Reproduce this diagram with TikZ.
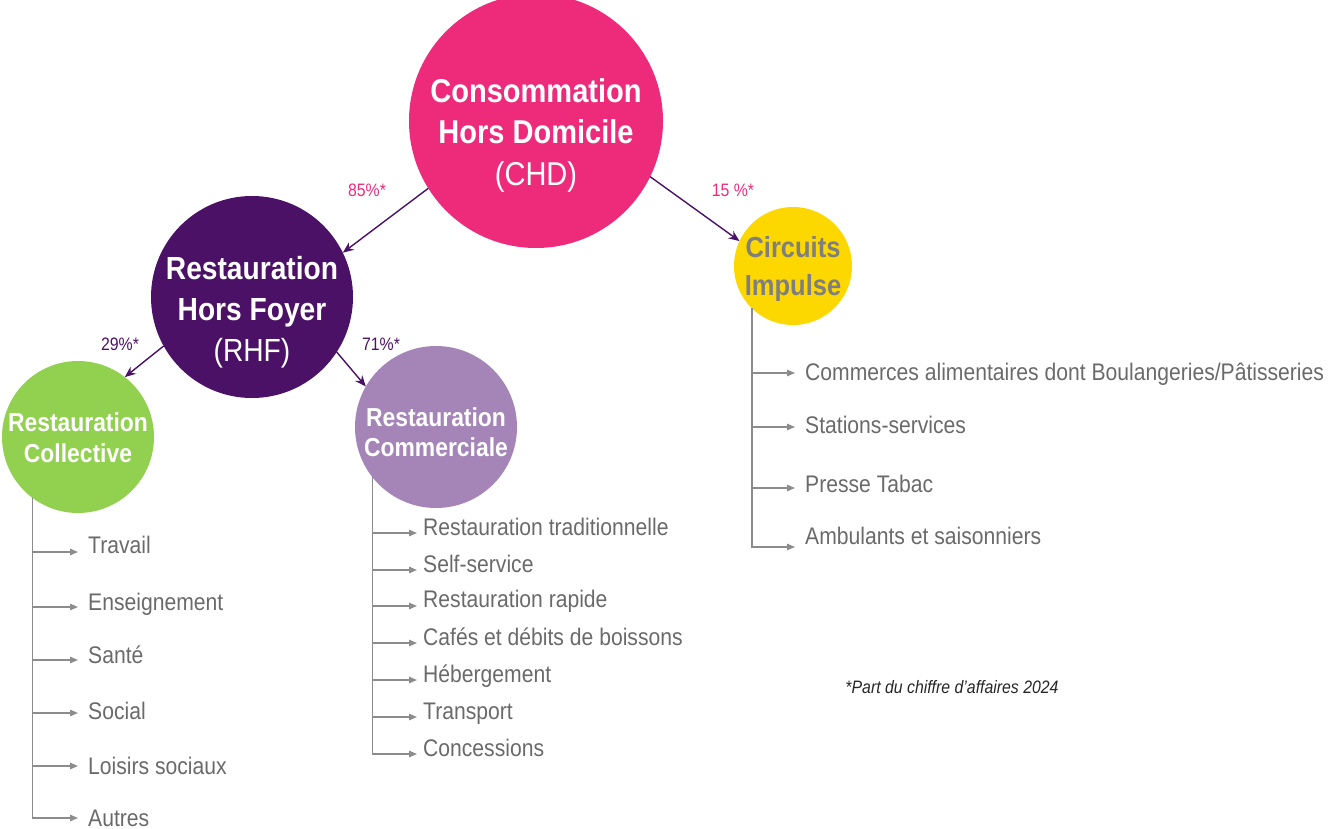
\documentclass[tikz,border=0pt]{standalone}
\usepackage{fontspec}
\setmainfont{Liberation Sans}[FakeStretch=0.88]
\usetikzlibrary{arrows.meta}

\definecolor{chdpink}{HTML}{EE2A7B}
\definecolor{rhfpurple}{HTML}{4B1166}
\definecolor{collgreen}{HTML}{92D050}
\definecolor{commlilac}{HTML}{A585B8}
\definecolor{impyellow}{HTML}{FDD800}
\definecolor{impgray}{HTML}{7F7F7F}
\definecolor{itemgray}{HTML}{6A6A6A}
\definecolor{linegray}{HTML}{8C8C8C}
\definecolor{notegray}{HTML}{262626}

\begin{document}
\begin{tikzpicture}[x=1pt,y=-1pt,
  disc/.style={circle,inner sep=0pt,outer sep=0pt},
  title/.style={text=white,font=\bfseries,align=center,inner sep=0pt},
  link/.style={draw=rhfpurple,line width=1.4pt,-{Stealth[length=11pt,width=9pt]}},
  share/.style={font=\fontsize{18}{20}\selectfont,inner sep=0pt},
  item/.style={text=itemgray,font=\fontsize{24}{28}\selectfont,inner sep=0pt,anchor=base west},
  branch/.style={draw=linegray,line width=1.3pt,-{Triangle[length=8pt,width=6.5pt]}}]

\useasboundingbox (0,0) rectangle (1335,829);

% category discs
\node[disc,fill=chdpink,minimum size=254pt] (chd) at (536,121) {};
\node[disc,fill=rhfpurple,minimum size=202pt] (rhf) at (252,297) {};
\node[disc,fill=collgreen,minimum size=152pt] (coll) at (78,437) {};
\node[disc,fill=commlilac,minimum size=162pt] (comm) at (436,427) {};
\node[disc,fill=impyellow,minimum size=118pt] (imp) at (793,266) {};

% disc titles
\node[title,font=\bfseries\fontsize{33}{41.5}\selectfont] (chdtext) at (536,135)
  {Consommation\\Hors Domicile\\\mdseries(CHD)};
\node[title,font=\bfseries\fontsize{32}{41}\selectfont] (rhftext) at (252,312.5)
  {Restauration\\Hors Foyer\\\mdseries(RHF)};
\node[title,font=\bfseries\fontsize{26}{31}\selectfont] (colltext) at (78,437.5)
  {Restauration\\Collective};
\node[title,font=\bfseries\fontsize{26}{30}\selectfont] (commtext) at (436,432)
  {Restauration\\Commerciale};
\node[title,text=impgray,font=\bfseries\fontsize{29}{38}\selectfont] (imptext) at (793,269)
  {Circuits\\Impulse};

% shares
\draw[link] (chd.212) -- (rhf.26);
\draw[link] (chd.-26) -- (imp.155);
\draw[link] (rhf.209) -- (coll.52);
\draw[link] (rhf.-33) -- (comm.150);

\node[share,text=chdpink] (p85) at (367,190) {85\%*};
\node[share,text=chdpink] (p15) at (733,190) {15 \%*};
\node[share,text=rhfpurple] (p29) at (120,344) {29\%*};
\node[share,text=rhfpurple] (p71) at (381,344) {71\%*};

% Restauration Collective segments
\foreach \n/\t/\yb/\yt in {trav/Travail/553/552, ens/Enseignement/610/607,
    san/Santé/663/660, soc/Social/719/713, lois/Loisirs sociaux/774/766,
    aut/Autres/826/818} {
  \node[item] (\n) at (88,\yb) {\t};
  \coordinate (\n-tip) at (78,\yt);
  \draw[branch] (coll.233) |- (\n-tip);
}

% Restauration Commerciale segments
\foreach \n/\t/\yb/\yt in {trad/Restauration traditionnelle/535/533,
    self/Self-service/572/570, rap/Restauration rapide/607/606,
    caf/Cafés et débits de boissons/645/643, heb/Hébergement/682/680,
    tra/Transport/719/717, con/Concessions/756/754} {
  \node[item] (\n) at (423,\yb) {\t};
  \coordinate (\n-tip) at (417,\yt);
  \draw[branch] (comm.218) |- (\n-tip);
}

% Circuits Impulse segments
\node[item] (com) at (805,380) {Commerces alimentaires dont Boulangeries/Pâtisseries};
\coordinate (com-tip) at (795,373);
\draw[branch] (imp.226) |- (com-tip);
\foreach \n/\t/\yb/\yt in {sta/Stations-services/433/427,
    pre/Presse Tabac/492/488, amb/Ambulants et saisonniers/544/547} {
  \node[item] (\n) at (805,\yb) {\t};
  \coordinate (\n-tip) at (795,\yt);
  \draw[branch] (imp.226) |- (\n-tip);
}

% footnote
\node[text=notegray,font=\itshape\fontsize{18}{20}\selectfont,inner sep=0pt] (note)
  at (952,687) {*Part du chiffre d’affaires 2024};
\end{tikzpicture}
\end{document}
